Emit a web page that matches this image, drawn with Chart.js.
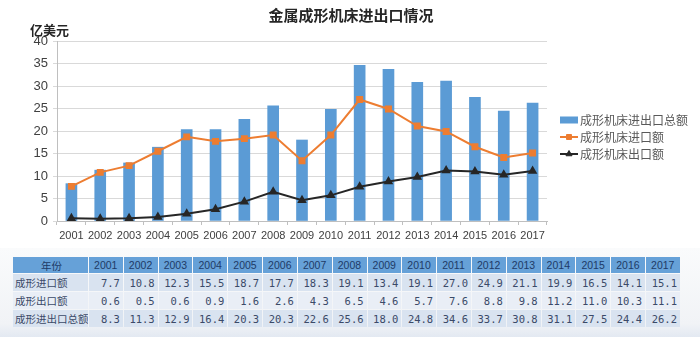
<!DOCTYPE html>
<html>
<head>
<meta charset="utf-8">
<script src="https://cdn.jsdelivr.net/npm/chart.js@4"></script>
<style>
  html, body { margin: 0; padding: 0; background: #fff; }
  #wrap { position: relative; width: 700px; height: 337px; overflow: hidden; }
  #chartBox { position: absolute; left: 0; top: 0; width: 700px; height: 250px; }
  #tableBg { position: absolute; left: 0; top: 248px; width: 700px; height: 89px;
    background: linear-gradient(to bottom, #fafbfc 0%, #f1f3f6 85%, #e3e9f2 100%); }
  #dataTable { position: absolute; left: 12px; top: 256px; width: 669px; table-layout: fixed;
    border-collapse: separate; border-spacing: 1px 1px;
    font-family: "Noto Sans CJK SC", sans-serif; font-size: 10.5px; color: #3b4a68; }
  #dataTable td { height: 17px; padding: 0 3px 0 2px; white-space: nowrap; overflow: hidden; }
  #dataTable tr.head td { background: #66a1d8; color: #1e3a66; text-align: left; height: 16px; padding-left: 5px; }
  #dataTable tr.r1 td { background: #d9e3f0; }
  #dataTable tr.r2 td { background: #e9eef6; }
  #dataTable td.num { text-align: right; font-family: "DejaVu Sans Mono", monospace; font-size: 10.5px; }
  #dataTable td.name { text-align: left; }
</style>
</head>
<body>
<div id="wrap">
  <div id="chartBox"><canvas id="chart" width="700" height="250"></canvas></div>
  <div id="tableBg"></div>
  <table id="dataTable"></table>
</div>
<script>
const years = ['2001', '2002', '2003', '2004', '2005', '2006', '2007', '2008', '2009',
  '2010', '2011', '2012', '2013', '2014', '2015', '2016', '2017'];
const importValues = [7.7, 10.8, 12.3, 15.5, 18.7, 17.7, 18.3, 19.1, 13.4, 19.1, 27.0, 24.9, 21.1, 19.9, 16.5, 14.1, 15.1];
const exportValues = [0.6, 0.5, 0.6, 0.9, 1.6, 2.6, 4.3, 6.5, 4.6, 5.7, 7.6, 8.8, 9.8, 11.2, 11.0, 10.3, 11.1];
const totalValues = [8.3, 11.3, 12.9, 16.4, 20.3, 20.3, 22.6, 25.6, 18.0, 24.8, 34.6, 33.7, 30.8, 31.1, 27.5, 24.4, 26.2];
const legendNames = ['成形机床进出口总额', '成形机床进口额', '成形机床出口额'];
const tableNames = ['成形进口额', '成形出口额', '成形进出口总额'];
const chartTitle = '金属成形机床进出口情况';
const unitLabel = '亿美元';

const cjk = '"Noto Sans CJK SC", sans-serif';

// title, unit label and the legend on the right
const decorPlugin = {
  id: 'decor',
  afterDraw(chart) {
    const ctx = chart.ctx;
    ctx.save();
    ctx.fillStyle = '#262626';
    ctx.textBaseline = 'middle';
    ctx.textAlign = 'center';
    ctx.font = 'bold 15px ' + cjk;
    ctx.fillText(chartTitle, 351, 15);
    ctx.textAlign = 'left';
    ctx.font = 'bold 13px ' + cjk;
    ctx.fillText(unitLabel, 30, 30);

    const x0 = 560, y0 = 120, gap = 17;
    chart.data.datasets.forEach((ds, i) => {
      const y = y0 + i * gap;
      if (ds.type === 'bar') {
        ctx.fillStyle = ds.backgroundColor;
        ctx.fillRect(x0, y - 3.5, 18, 7);
      } else {
        ctx.strokeStyle = ds.borderColor;
        ctx.lineWidth = 2;
        ctx.beginPath();
        ctx.moveTo(x0, y);
        ctx.lineTo(x0 + 18, y);
        ctx.stroke();
        ctx.fillStyle = ds.pointBackgroundColor;
        ctx.strokeStyle = ds.pointBorderColor;
        ctx.lineWidth = 1;
        Chart.helpers.drawPoint(ctx, {
          pointStyle: ds.pointStyle, radius: ds.pointRadius, borderWidth: 1
        }, x0 + 9, y);
      }
      ctx.fillStyle = '#595959';
      ctx.font = '12px ' + cjk;
      ctx.fillText(ds.label, x0 + 20, y);
    });
    ctx.restore();
  }
};

new Chart(document.getElementById('chart').getContext('2d'), {
  data: {
    labels: years,
    datasets: [{
      type: 'bar',
      label: legendNames[0],
      data: totalValues,
      backgroundColor: '#5b9bd5',
      barThickness: 11,
      order: 2
    }, {
      type: 'line',
      label: legendNames[1],
      data: importValues,
      borderColor: '#ed7d31',
      borderWidth: 2,
      tension: 0,
      pointStyle: 'rect',
      pointRadius: 3.5,
      pointBackgroundColor: '#ed7d31',
      pointBorderColor: '#ed7d31',
      order: 1
    }, {
      type: 'line',
      label: legendNames[2],
      data: exportValues,
      borderColor: '#262626',
      borderWidth: 2,
      tension: 0,
      pointStyle: 'triangle',
      pointRadius: 3.5,
      pointBackgroundColor: '#262626',
      pointBorderColor: '#262626',
      order: 0
    }]
  },
  options: {
    responsive: false,
    animation: false,
    devicePixelRatio: 1,
    layout: { padding: { top: 41, right: 153, left: 0, bottom: 0 } },
    plugins: {
      legend: { display: false },
      tooltip: { enabled: false }
    },
    scales: {
      x: {
        offset: true,
        grid: { offset: true, drawOnChartArea: false, drawTicks: true, tickLength: 4, color: '#bfbfbf' },
        border: { color: '#bfbfbf' },
        ticks: {
          color: '#404040', padding: 4, maxRotation: 0, autoSkip: false,
          font: { family: '"Liberation Sans", sans-serif', size: 11 }
        },
        afterFit: s => { s.height = 29; }
      },
      y: {
        min: 0,
        max: 40,
        ticks: {
          stepSize: 5, color: '#404040', padding: 5,
          font: { family: '"Liberation Sans", sans-serif', size: 13 }
        },
        grid: { color: '#d9d9d9', tickLength: 4 },
        border: { color: '#bfbfbf' },
        afterFit: s => { s.width = 57; }
      }
    }
  },
  plugins: [decorPlugin]
});

// table below the chart, built from the same arrays
const table = document.getElementById('dataTable');
const cols = document.createElement('colgroup');
const firstCol = document.createElement('col');
firstCol.style.width = '75px';
cols.appendChild(firstCol);
years.forEach(() => {
  const c = document.createElement('col');
  c.style.width = '33.8px';
  cols.appendChild(c);
});
table.appendChild(cols);

function addRow(cls, name, cells, isHead) {
  const tr = document.createElement('tr');
  tr.className = cls;
  const first = document.createElement('td');
  first.className = 'name';
  first.textContent = name;
  if (isHead) first.style.textAlign = 'center';
  tr.appendChild(first);
  cells.forEach(v => {
    const td = document.createElement('td');
    td.className = 'num';
    td.textContent = v;
    if (isHead) { td.style.textAlign = 'left'; td.style.fontFamily = '"Liberation Sans", sans-serif'; }
    tr.appendChild(td);
  });
  table.appendChild(tr);
}
addRow('head', '年份', years, true);
addRow('r1', tableNames[0], importValues.map(v => v.toFixed(1)), false);
addRow('r2', tableNames[1], exportValues.map(v => v.toFixed(1)), false);
addRow('r1', tableNames[2], totalValues.map(v => v.toFixed(1)), false);
</script>
</body>
</html>
